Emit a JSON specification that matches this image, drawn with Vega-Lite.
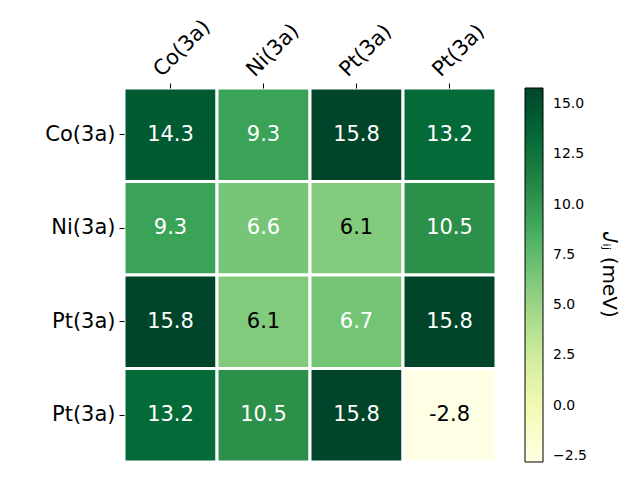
{
  "$schema": "https://vega.github.io/schema/vega-lite/v6.json",
  "width": 372,
  "height": 374,
  "autosize": {"type": "none"},
  "padding": {"left": 124, "top": 88, "right": 144, "bottom": 18},
  "background": "white",
  "config": {"view": {"stroke": null}, "font": "DejaVu Sans"},
  "data": {
    "values": [
      {"row": 0, "col": 0, "v": 14.3}, {"row": 0, "col": 1, "v": 9.3}, {"row": 0, "col": 2, "v": 15.8}, {"row": 0, "col": 3, "v": 13.2},
      {"row": 1, "col": 0, "v": 9.3}, {"row": 1, "col": 1, "v": 6.6}, {"row": 1, "col": 2, "v": 6.1}, {"row": 1, "col": 3, "v": 10.5},
      {"row": 2, "col": 0, "v": 15.8}, {"row": 2, "col": 1, "v": 6.1}, {"row": 2, "col": 2, "v": 6.7}, {"row": 2, "col": 3, "v": 15.8},
      {"row": 3, "col": 0, "v": 13.2}, {"row": 3, "col": 1, "v": 10.5}, {"row": 3, "col": 2, "v": 15.8}, {"row": 3, "col": 3, "v": -2.8}
    ]
  },
  "encoding": {
    "x": {
      "field": "col", "type": "ordinal",
      "scale": {"paddingInner": 0, "paddingOuter": 0},
      "axis": {
        "orient": "top", "title": null, "domain": false,
        "labelAngle": -45, "labelAlign": "left", "labelBaseline": "bottom",
        "labelFontSize": 21, "labelColor": "black", "tickColor": "black",
        "tickSize": 5, "labelPadding": 3, "labelOffset": -6,
        "labelExpr": "['Co(3a)','Ni(3a)','Pt(3a)','Pt(3a)'][datum.value]"
      }
    },
    "y": {
      "field": "row", "type": "ordinal",
      "scale": {"paddingInner": 0, "paddingOuter": 0},
      "axis": {
        "title": null, "domain": false, "labelFontSize": 21, "labelColor": "black",
        "tickColor": "black", "tickSize": 5, "labelPadding": 4,
        "labelExpr": "['Co(3a)','Ni(3a)','Pt(3a)','Pt(3a)'][datum.value]"
      }
    }
  },
  "layer": [
    {
      "mark": {"type": "rect", "stroke": "white", "strokeWidth": 3},
      "encoding": {
        "color": {
          "field": "v", "type": "quantitative",
          "scale": {
            "domain": [-2.8, -0.475, 1.85, 4.175, 6.5, 8.825, 11.15, 13.475, 15.8],
            "range": ["#ffffe5", "#f7fcb9", "#d9f0a3", "#addd8e", "#78c679", "#41ab5d", "#238443", "#006837", "#004529"]
          },
          "legend": {
            "title": "𝐽ᵢⱼ (meV)", "titleOrient": "right", "titleAngle": 90,
            "titleFontSize": 20, "titleFontWeight": "normal", "titleColor": "black",
            "titleAnchor": "middle", "titleBaseline": "bottom", "titlePadding": 12,
            "gradientLength": 374, "gradientThickness": 18,
            "gradientStrokeColor": "black", "gradientStrokeWidth": 1,
            "values": [-2.5, 0, 2.5, 5, 7.5, 10, 12.5, 15],
            "format": ".1f", "labelFontSize": 14, "labelColor": "black",
            "labelOffset": 10, "offset": 29, "direction": "vertical"
          }
        }
      }
    },
    {
      "transform": [{"calculate": "replace(format(datum.v, '.1f'), '\u2212', '-')", "as": "lbl"}],
      "mark": {"type": "text", "fontSize": 21},
      "encoding": {
        "text": {"field": "lbl", "type": "nominal"},
        "color": {"condition": {"test": "datum.v < 6.5", "value": "black"}, "value": "white"}
      }
    }
  ]
}
